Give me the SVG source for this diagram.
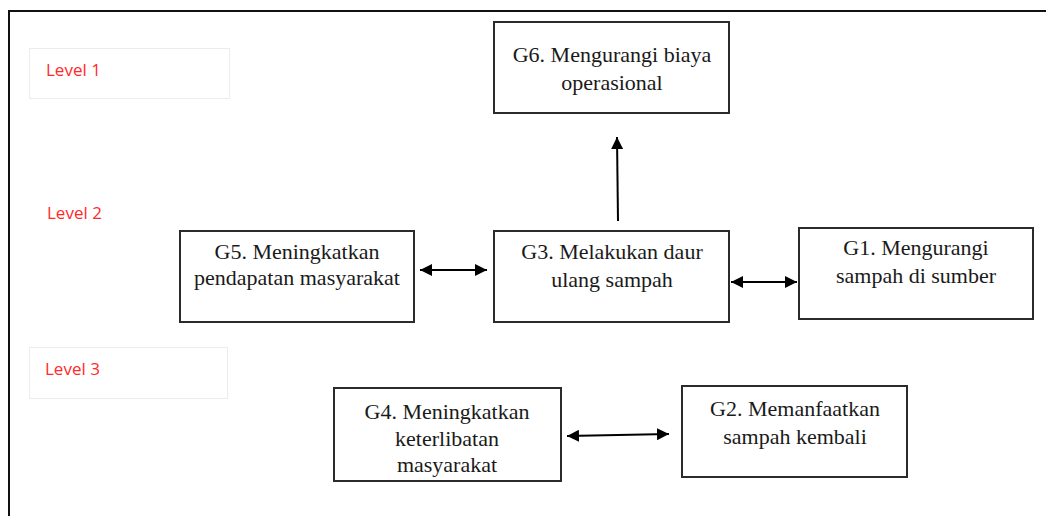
<svg xmlns="http://www.w3.org/2000/svg" width="1046" height="516" viewBox="0 0 1046 516">
<style>
.node rect{fill:#fff;stroke:#2b2b2b;stroke-width:2}
.node text{font-family:"Liberation Serif","Times New Roman",serif;font-size:22px;fill:#1a1a1a;text-anchor:middle}
.lvl text{font-family:"Open Sans","Liberation Sans",sans-serif;font-size:17px;fill:#ff2a2a}
.lvl rect{fill:#fff;stroke:#ececec;stroke-width:1}
.edges line{stroke:#000;stroke-width:2}
</style>
<defs>
<marker id="ah" viewBox="0 0 12 12" refX="12" refY="6" markerWidth="12" markerHeight="12" markerUnits="userSpaceOnUse" orient="auto-start-reverse">
<path d="M0,0 L12,6 L0,12 z" fill="#000"/>
</marker>
</defs>
<rect width="1046" height="516" fill="#fff"/>
<g id="frame">
<line x1="8" y1="11" x2="1046" y2="11" stroke="#111" stroke-width="2"/>
<line x1="9" y1="10" x2="9" y2="516" stroke="#111" stroke-width="2"/>
</g>
<g id="level1" class="lvl"><rect x="29.5" y="48.5" width="200" height="50"/><text x="46" y="76">Level 1</text></g>
<g id="level2" class="lvl"><text x="47" y="219">Level 2</text></g>
<g id="level3" class="lvl"><rect x="29.5" y="347.5" width="198" height="51"/><text x="45" y="375">Level 3</text></g>
<g id="G6" class="node"><rect x="494" y="22" width="235" height="91"/><text x="612" y="62">G6. Mengurangi biaya</text><text x="612" y="90">operasional</text></g>
<g id="G5" class="node"><rect x="180" y="231" width="234" height="91"/><text x="297" y="259">G5. Meningkatkan</text><text x="297" y="285">pendapatan masyarakat</text></g>
<g id="G3" class="node"><rect x="494" y="231" width="235" height="91"/><text x="612" y="259">G3. Melakukan daur</text><text x="612" y="287">ulang sampah</text></g>
<g id="G1" class="node"><rect x="799" y="228" width="234" height="91"/><text x="916" y="255">G1. Mengurangi</text><text x="916" y="283">sampah di sumber</text></g>
<g id="G4" class="node"><rect x="334" y="388" width="227" height="93"/><text x="447" y="419">G4. Meningkatkan</text><text x="447" y="446">keterlibatan</text><text x="447" y="472">masyarakat</text></g>
<g id="G2" class="node"><rect x="682" y="386" width="225" height="91"/><text x="795" y="416">G2. Memanfaatkan</text><text x="795" y="444">sampah kembali</text></g>
<g id="connectors" class="edges">
<line x1="618" y1="221" x2="617" y2="137" marker-end="url(#ah)"/>
<line x1="420" y1="270" x2="487" y2="270" marker-start="url(#ah)" marker-end="url(#ah)"/>
<line x1="731" y1="282" x2="797" y2="282" marker-start="url(#ah)" marker-end="url(#ah)"/>
<line x1="567" y1="436" x2="669" y2="434" marker-start="url(#ah)" marker-end="url(#ah)"/>
</g>
</svg>
